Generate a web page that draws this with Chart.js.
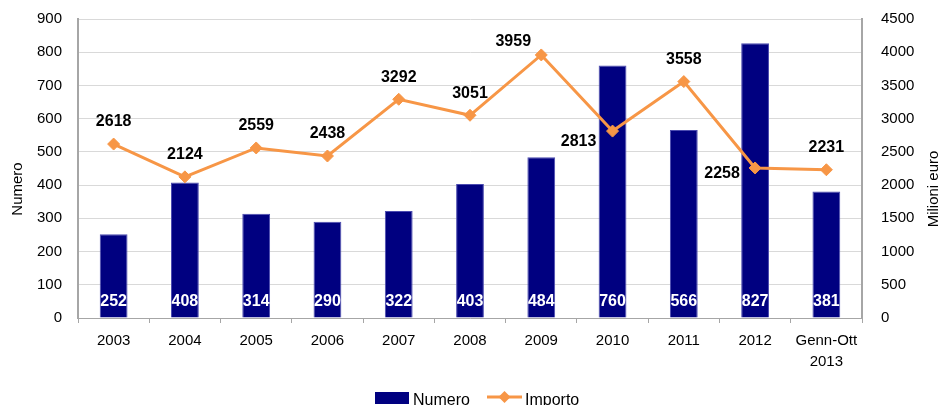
<!DOCTYPE html>
<html>
<head>
<meta charset="utf-8">
<script src="https://cdn.jsdelivr.net/npm/chart.js@4.4.1/dist/chart.umd.min.js"></script>
<style>
  html, body { margin: 0; padding: 0; background: #fff; }
  #wrap { width: 943px; height: 405px; position: relative; }
</style>
</head>
<body>
<div id="wrap"><canvas id="mainChart"></canvas></div>
<script>
// categories and values
var anni = ['2003', '2004', '2005', '2006', '2007', '2008', '2009', '2010', '2011', '2012', ['Genn-Ott', '2013']];
var numero = [252, 408, 314, 290, 322, 403, 484, 760, 566, 827, 381];
var importo = [2618, 2124, 2559, 2438, 3292, 3051, 3959, 2813, 3558, 2258, 2231];
var numeroTicks = [0, 100, 200, 300, 400, 500, 600, 700, 800, 900];
var importoTicks = [0, 500, 1000, 1500, 2000, 2500, 3000, 3500, 4000, 4500];

var navy = '#000080';
var orange = '#F79646';
var tickFont = { family: 'Liberation Sans', size: 15 };

// where the line labels sit relative to their point (most are above)
var importoLabelPos = [
  [0, -22], [0, -22], [0, -22], [0, -22], [0, -22], [0, -22],
  [-28, -13], [-34, 11], [0, -22], [-33, 6], [0, -22]
];

var labelsPlugin = {
  id: 'labels',
  afterDatasetsDraw: function(chart) {
    var ctx = chart.ctx;
    ctx.save();
    ctx.font = 'bold 16px "Liberation Sans"';
    ctx.textAlign = 'center';
    ctx.textBaseline = 'middle';
    var barMeta = chart.getDatasetMeta(1);
    ctx.fillStyle = '#ffffff';
    barMeta.data.forEach(function(el, i) {
      ctx.fillText(String(numero[i]), el.x, el.base - 16);
    });
    var lineMeta = chart.getDatasetMeta(0);
    ctx.fillStyle = '#000000';
    lineMeta.data.forEach(function(el, i) {
      var p = importoLabelPos[i];
      ctx.fillText(String(importo[i]), el.x + p[0], el.y + p[1]);
    });
    ctx.restore();
  },
  afterDraw: function(chart) {
    var ctx = chart.ctx;
    var titleY = 189;
    ctx.save();
    ctx.fillStyle = '#000000';
    ctx.font = '15px "Liberation Sans"';
    ctx.textAlign = 'center';
    ctx.textBaseline = 'middle';
    // axis titles, both read bottom to top
    ctx.translate(18, titleY);
    ctx.rotate(-Math.PI / 2);
    ctx.fillText('Numero', 0, 0);
    ctx.setTransform(1, 0, 0, 1, 0, 0);
    ctx.translate(934, titleY);
    ctx.rotate(-Math.PI / 2);
    ctx.fillText('Milioni euro', 0, 0);
    ctx.setTransform(1, 0, 0, 1, 0, 0);

    // legend
    ctx.font = '16px "Liberation Sans"';
    ctx.textAlign = 'left';
    ctx.textBaseline = 'alphabetic';
    ctx.fillStyle = navy;
    ctx.fillRect(375, 392, 34, 12);
    ctx.fillStyle = '#000000';
    ctx.fillText('Numero', 413, 405);
    ctx.strokeStyle = orange;
    ctx.lineWidth = 3;
    ctx.beginPath();
    ctx.moveTo(487, 397);
    ctx.lineTo(522, 397);
    ctx.stroke();
    ctx.fillStyle = orange;
    ctx.beginPath();
    ctx.moveTo(504.5, 391);
    ctx.lineTo(510.5, 397);
    ctx.lineTo(504.5, 403);
    ctx.lineTo(498.5, 397);
    ctx.closePath();
    ctx.fill();
    ctx.fillStyle = '#000000';
    ctx.fillText('Importo', 525, 405);
    ctx.restore();
  }
};

// fixed axis sizes so the plot area sits where it does in the picture
function fitY(width) {
  return function(s) {
    s.width = width;
    s.paddingTop = 0;
    s.paddingBottom = 0;
  };
}

var ctx = document.getElementById('mainChart').getContext('2d');
var chart = new Chart(ctx, {
  type: 'bar',
  data: {
    labels: anni,
    datasets: [{
      type: 'line',
      label: 'Importo',
      data: importo,
      yAxisID: 'y1',
      borderColor: orange,
      backgroundColor: orange,
      borderWidth: 3,
      pointStyle: 'rectRot',
      pointRadius: 6,
      pointBorderWidth: 1,
      tension: 0,
      order: 0
    }, {
      type: 'bar',
      label: 'Numero',
      data: numero,
      yAxisID: 'y',
      backgroundColor: navy,
      borderColor: '#4b4bb0',
      borderWidth: 1,
      barPercentage: 0.39,
      categoryPercentage: 1,
      order: 1
    }]
  },
  options: {
    responsive: true,
    maintainAspectRatio: false,
    animation: false,
    layout: { padding: { top: 19, left: 0, right: 0, bottom: 0 } },
    plugins: {
      legend: { display: false },
      tooltip: { enabled: false }
    },
    scales: {
      x: {
        grid: { offset: true, drawOnChartArea: false, tickLength: 5, color: '#a6a6a6' },
        border: { color: '#a6a6a6', width: 1 },
        ticks: { color: '#000', font: Object.assign({ lineHeight: 1.35 }, tickFont), padding: 8, maxRotation: 0, autoSkip: false },
        afterFit: function(s) { s.height = 87; }
      },
      y: {
        position: 'left',
        min: 0, max: 900,
        afterBuildTicks: function(s) { s.ticks = numeroTicks.map(function(v) { return { value: v }; }); },
        grid: { color: '#d9d9d9', drawTicks: false },
        border: { color: '#a6a6a6', width: 2 },
        ticks: { color: '#000', font: tickFont, padding: 16, callback: function(v) { return String(v); } },
        afterFit: fitY(78)
      },
      y1: {
        position: 'right',
        min: 0, max: 4500,
        afterBuildTicks: function(s) { s.ticks = importoTicks.map(function(v) { return { value: v }; }); },
        grid: { drawOnChartArea: false, drawTicks: false },
        border: { color: '#a6a6a6', width: 2 },
        ticks: { color: '#000', font: tickFont, padding: 19, callback: function(v) { return String(v); } },
        afterFit: fitY(81)
      }
    }
  },
  plugins: [labelsPlugin]
});
</script>
</body>
</html>
